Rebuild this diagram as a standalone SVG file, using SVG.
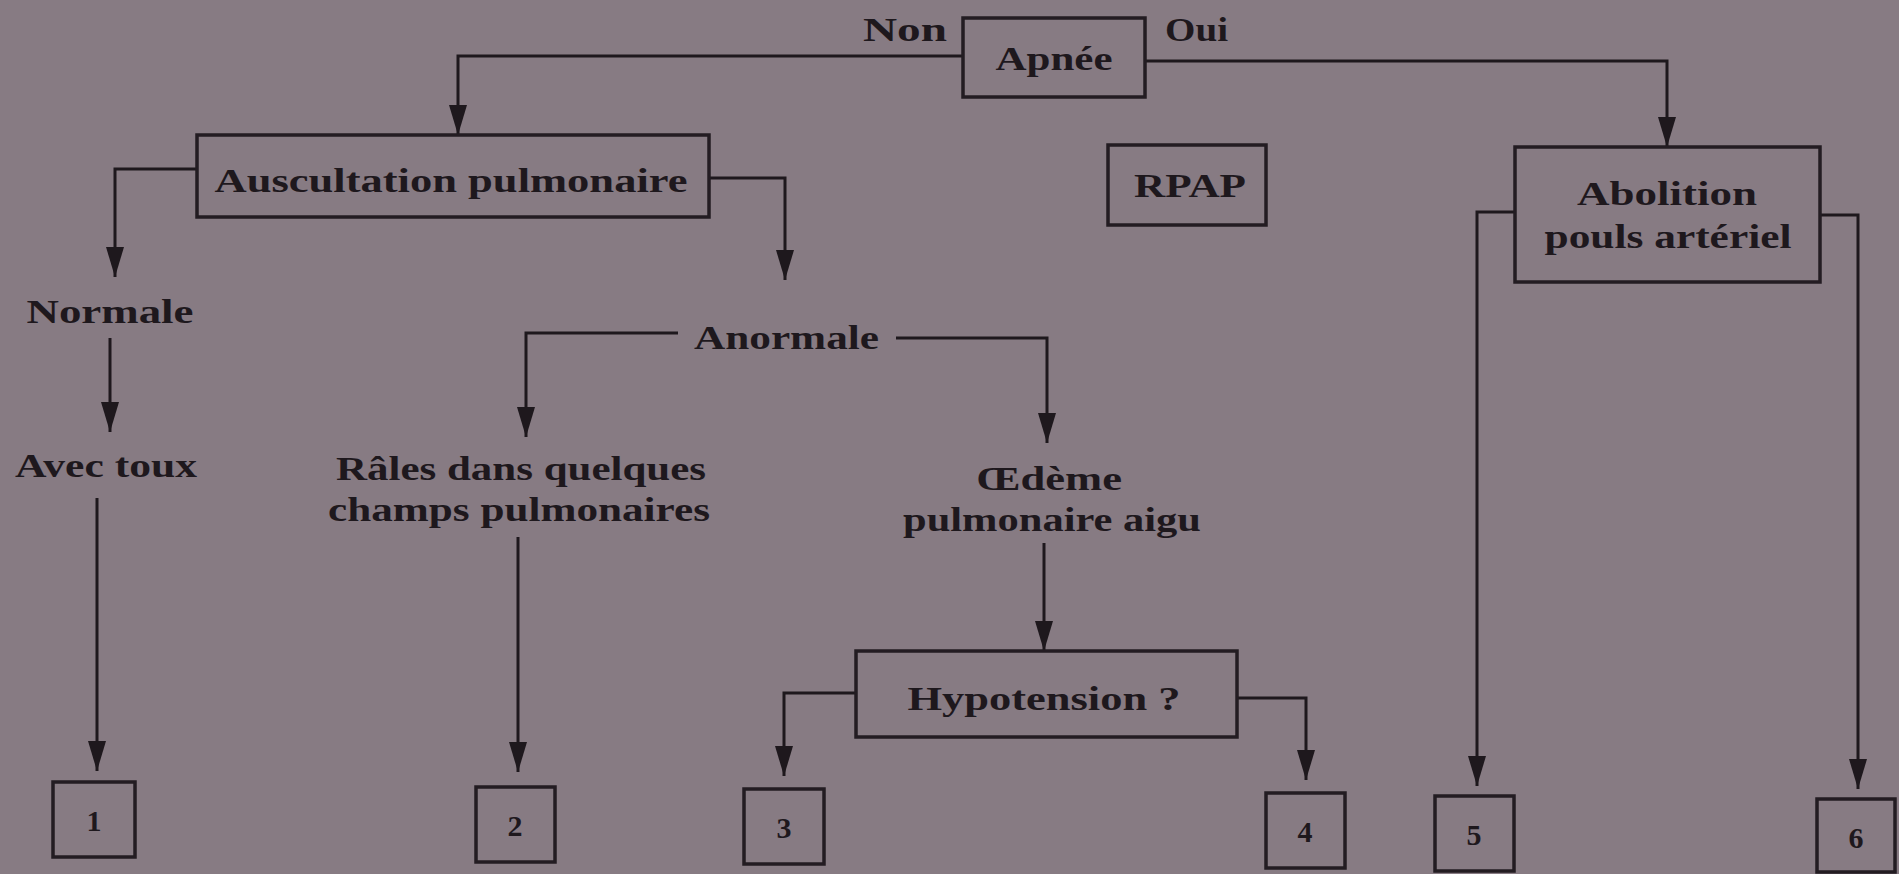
<svg xmlns="http://www.w3.org/2000/svg" width="1899" height="874" viewBox="0 0 1899 874">
<defs>
<style>
.bg{fill:#877b83}
.box{fill:none;stroke:#231c22;stroke-width:3.5}
.lbl{font-family:"Liberation Serif",serif;font-size:34px;fill:#1e181d;font-weight:bold}
.free{font-family:"Liberation Serif",serif;font-size:34px;fill:#1e181d;font-weight:bold}
.num{font-family:"Liberation Serif",serif;font-size:30px;fill:#1e181d;font-weight:bold;text-anchor:middle}
.c{text-anchor:middle}
.edge{fill:none;stroke:#1e181d;stroke-width:3;marker-end:url(#ah)}
</style>
<marker id="ah" markerUnits="userSpaceOnUse" viewBox="0 0 30 18" refX="30" refY="9" markerWidth="30" markerHeight="18" orient="auto">
<path d="M0,0 L30,9 L0,18 z" fill="#1e181d"/>
</marker>
</defs>
<rect class="bg" x="0" y="0" width="1899" height="874"/>

<g id="connectors">
<path class="edge" d="M963,56 H458 V135"/>
<path class="edge" d="M1145,61 H1667 V147"/>
<path class="edge" d="M197,169 H115 V277"/>
<path class="edge" d="M709,178 H785 V280"/>
<path class="edge" d="M110,338 V432"/>
<path class="edge" d="M97,498 V771"/>
<path class="edge" d="M678,333 H526 V437"/>
<path class="edge" d="M896,338 H1047 V443"/>
<path class="edge" d="M518,537 V772"/>
<path class="edge" d="M1044,543 V651"/>
<path class="edge" d="M856,693 H784 V776"/>
<path class="edge" d="M1237,698 H1306 V780"/>
<path class="edge" d="M1515,212 H1477 V786"/>
<path class="edge" d="M1820,215 H1858 V789"/>
</g>

<g id="label-non"><text class="free" x="863" y="41" textLength="84" lengthAdjust="spacingAndGlyphs">Non</text></g>
<g id="label-oui"><text class="free" x="1165" y="41" textLength="63" lengthAdjust="spacingAndGlyphs">Oui</text></g>

<g id="apnee">
<rect class="box" x="963" y="18" width="182" height="79"/>
<text class="lbl c" x="1054" y="70" textLength="117" lengthAdjust="spacingAndGlyphs">Apnée</text>
</g>

<g id="auscultation">
<rect class="box" x="197" y="135" width="512" height="82"/>
<text class="lbl c" x="451" y="192" textLength="473" lengthAdjust="spacingAndGlyphs">Auscultation pulmonaire</text>
</g>

<g id="rpap">
<rect class="box" x="1108" y="145" width="158" height="80"/>
<text class="lbl c" x="1190" y="197" textLength="112" lengthAdjust="spacingAndGlyphs">RPAP</text>
</g>

<g id="abolition">
<rect class="box" x="1515" y="147" width="305" height="135"/>
<text class="lbl c" x="1667" y="205" textLength="180" lengthAdjust="spacingAndGlyphs">Abolition</text>
<text class="lbl c" x="1668" y="248" textLength="247" lengthAdjust="spacingAndGlyphs">pouls artériel</text>
</g>

<g id="normale"><text class="free c" x="110" y="323" textLength="167" lengthAdjust="spacingAndGlyphs">Normale</text></g>
<g id="anormale"><text class="free" x="694" y="349" textLength="185" lengthAdjust="spacingAndGlyphs">Anormale</text></g>
<g id="avec-toux"><text class="free c" x="106" y="477" textLength="182" lengthAdjust="spacingAndGlyphs">Avec toux</text></g>
<g id="rales">
<text class="free c" x="521" y="480" textLength="370" lengthAdjust="spacingAndGlyphs">Râles dans quelques</text>
<text class="free c" x="519" y="521" textLength="382" lengthAdjust="spacingAndGlyphs">champs pulmonaires</text>
</g>
<g id="oedeme">
<text class="free c" x="1049" y="490" textLength="146" lengthAdjust="spacingAndGlyphs">Œdème</text>
<text class="free c" x="1052" y="531" textLength="298" lengthAdjust="spacingAndGlyphs">pulmonaire aigu</text>
</g>

<g id="hypotension">
<rect class="box" x="856" y="651" width="381" height="86"/>
<text class="lbl c" x="1044" y="710" textLength="273" lengthAdjust="spacingAndGlyphs">Hypotension ?</text>
</g>

<g id="n1"><rect class="box" x="53" y="782" width="82" height="75"/><text class="num" x="94" y="831">1</text></g>
<g id="n2"><rect class="box" x="476" y="787" width="79" height="75"/><text class="num" x="515" y="836">2</text></g>
<g id="n3"><rect class="box" x="744" y="789" width="80" height="75"/><text class="num" x="784" y="838">3</text></g>
<g id="n4"><rect class="box" x="1266" y="793" width="79" height="75"/><text class="num" x="1305" y="842">4</text></g>
<g id="n5"><rect class="box" x="1435" y="796" width="79" height="75"/><text class="num" x="1474" y="845">5</text></g>
<g id="n6"><rect class="box" x="1817" y="799" width="78" height="73"/><text class="num" x="1856" y="848">6</text></g>
</svg>
